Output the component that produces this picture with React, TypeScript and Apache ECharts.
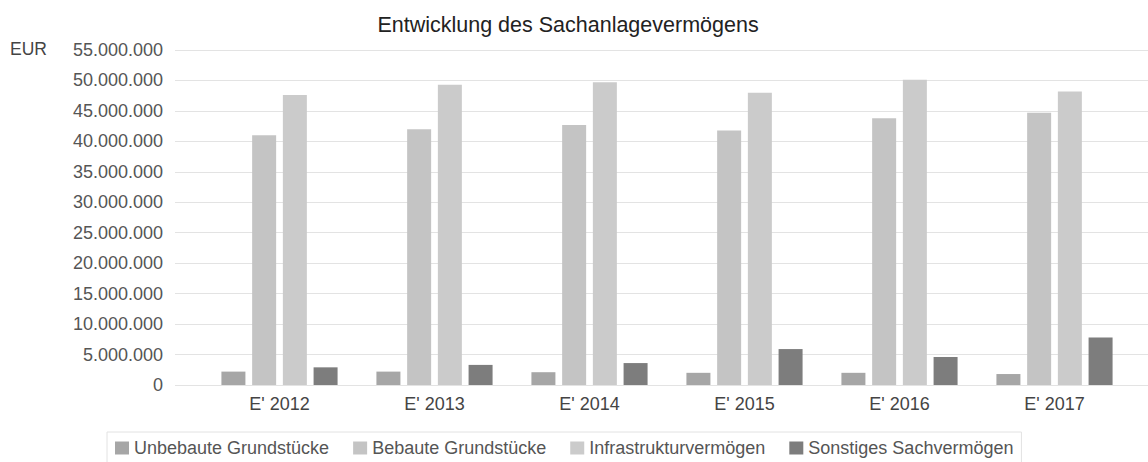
import React, { useEffect, useRef } from "react";
import * as echarts from "echarts";

const categories = ["E' 2012", "E' 2013", "E' 2014", "E' 2015", "E' 2016", "E' 2017"];
const seriesNames = ["Unbebaute Grundstücke", "Bebaute Grundstücke", "Infrastrukturvermögen", "Sonstiges Sachvermögen"];
const unbebaute = [2200000, 2200000, 2100000, 2000000, 2000000, 1800000];
const bebaute = [41000000, 42000000, 42700000, 41800000, 43800000, 44700000];
const infrastruktur = [47600000, 49300000, 49700000, 48000000, 50100000, 48200000];
const sonstiges = [2900000, 3300000, 3600000, 5900000, 4600000, 7800000];
const colors = ["#a6a6a6", "#c4c4c4", "#cbcbcb", "#7d7d7d"];
const yMax = 55000000;
const yInterval = 5000000;

const fmt = (v: number) => String(Math.round(v)).replace(/\B(?=(\d{3})+(?!\d))/g, ".");
const FONT = "'Liberation Sans', Arial, sans-serif";

export default function App() {
  const ref = useRef<HTMLDivElement>(null);
  useEffect(() => {
    if (!ref.current) return;
    const chart = echarts.init(ref.current, undefined, { renderer: "svg" });
    const values = [unbebaute, bebaute, infrastruktur, sonstiges];
    chart.setOption({
      animation: false,
      textStyle: { fontFamily: FONT },
      title: {
        text: "Entwicklung des Sachanlagevermögens",
        left: 563,
        textAlign: "center",
        top: 9,
        textStyle: { fontSize: 21.5, fontWeight: "normal", color: "#222", fontFamily: FONT },
      },
      graphic: [
        {
          type: "text",
          left: 10,
          top: 40,
          style: { text: "EUR", fontSize: 17.5, fill: "#444", fontFamily: FONT },
        },
      ],
      legend: {
        data: seriesNames,
        left: 107,
        top: 432,
        itemWidth: 14,
        itemHeight: 13,
        itemGap: 24,
        padding: [7, 8, 7, 8],
        borderColor: "#e2e2e2",
        borderWidth: 1,
        icon: "rect",
        textStyle: { fontSize: 18, color: "#555", fontFamily: FONT },
      },
      grid: [
        { left: 175, right: 0, top: 50, bottom: 77 },
        { left: 202, right: 16, top: 50, bottom: 77 },
      ],
      xAxis: [
        { type: "category", gridIndex: 0, data: categories, show: false },
        {
          type: "category",
          gridIndex: 1,
          data: categories,
          axisLine: { show: false },
          axisTick: { show: false },
          axisLabel: { fontSize: 18, color: "#444", margin: 10, fontFamily: FONT },
        },
      ],
      yAxis: [
        {
          type: "value",
          gridIndex: 0,
          min: 0,
          max: yMax,
          interval: yInterval,
          axisLine: { show: false },
          axisTick: { show: false },
          axisLabel: { fontSize: 18, color: "#555", margin: 12, formatter: fmt, fontFamily: FONT },
          splitLine: { lineStyle: { color: "#e3e3e3", width: 1 } },
        },
        {
          type: "value",
          gridIndex: 1,
          min: 0,
          max: yMax,
          interval: yInterval,
          show: false,
          splitLine: { show: false },
        },
      ],
      series: seriesNames.map((name, i) => ({
        name,
        type: "bar",
        xAxisIndex: 1,
        yAxisIndex: 1,
        data: values[i],
        barWidth: 24,
        barGap: "28%",
        itemStyle: { color: colors[i] },
      })),
    });
    return () => chart.dispose();
  }, []);
  return <div ref={ref} style={{ width: 1148, height: 462, position: "absolute", left: 0, top: 0 }} />;
}
